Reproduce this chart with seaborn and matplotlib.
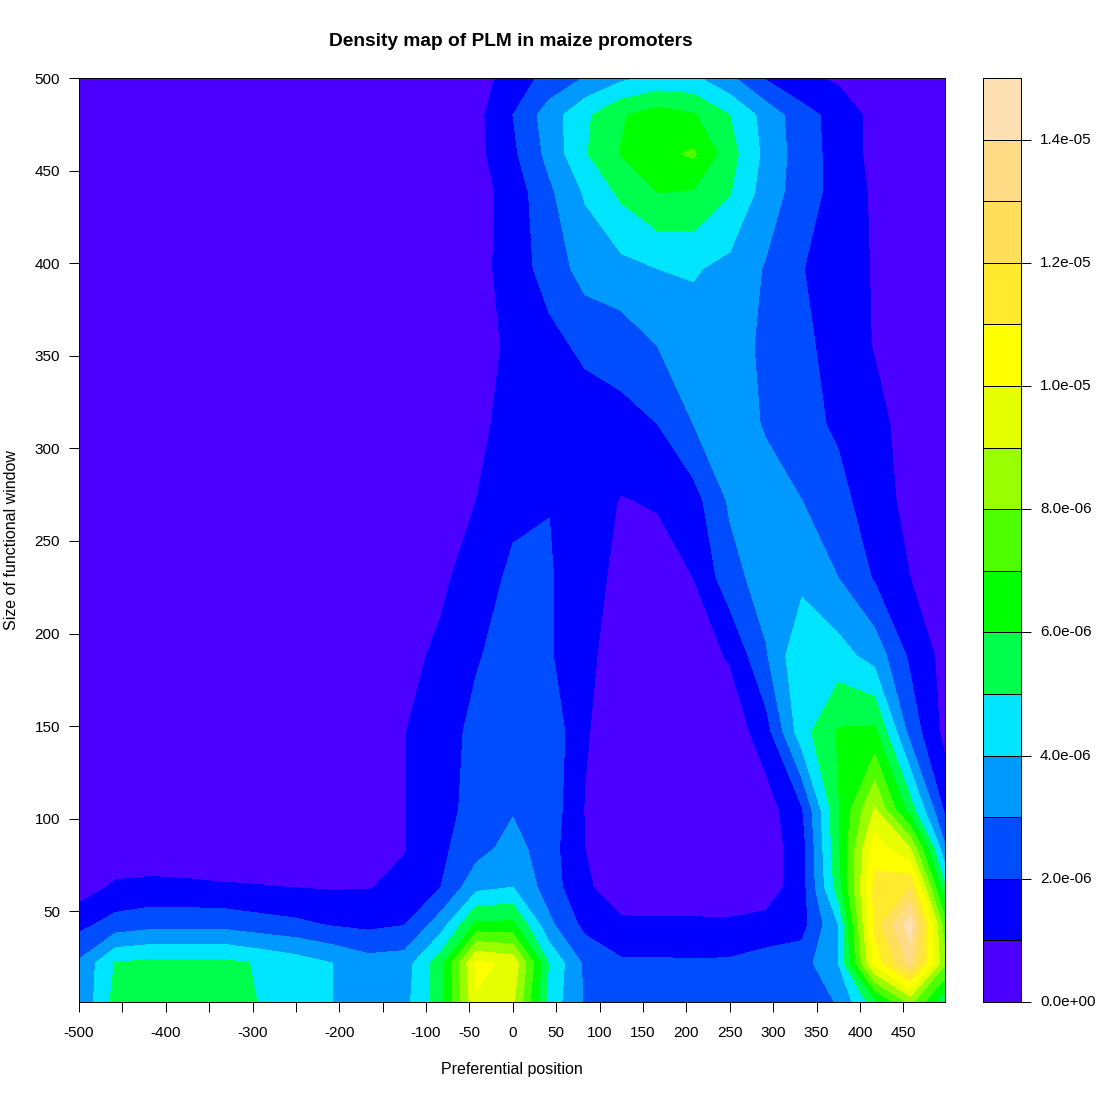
import numpy as np
import matplotlib
matplotlib.use('Agg')
import matplotlib.pyplot as plt
from matplotlib.colors import ListedColormap
import seaborn as sns

# density grid, in units of 1e-6
positions = [-500, -458, -417, -375, -333, -292, -250, -208, -167, -125, -83, -42, 0,
             42, 83, 125, 167, 208, 250, 292, 333, 375, 417, 458, 500]
sizes = [1, 22, 43, 63, 84, 105, 147, 188, 230, 272, 313, 355, 397, 438, 459, 480, 500]

row_1 = [3.1, 5.36, 5.7, 5.7, 5.7, 4.95, 4.6, 4.0, 3.7, 3.7, 5.5, 9.9, 9.2, 4.6, 2.9, 2.5, 2.5, 2.5, 2.5, 2.6, 2.6, 3.05, 5.6, 8.3, 5.0]
row_22 = [3.15, 5.05, 5.25, 5.25, 5.25, 4.9, 4.5, 4.0, 3.4, 3.5, 5.6, 10.25, 9.75, 4.9, 2.8, 2.15, 2.15, 2.1, 2.15, 2.45, 2.55, 4.0, 10.3, 13.3, 8.0]
row_43 = [1.7, 2.4, 2.65, 2.65, 2.65, 2.4, 2.2, 1.9, 1.75, 1.95, 3.5, 6.2, 6.2, 3.2, 1.7, 1.15, 1.15, 1.15, 1.12, 1.3, 1.6, 4.0, 11.3, 14.6, 7.0]
row_63 = [0.5, 1.15, 1.25, 1.2, 1.1, 1.05, 0.98, 0.92, 0.95, 1.25, 2.0, 3.7, 4.0, 2.5, 1.15, 0.5, 0.4, 0.4, 0.45, 0.5, 1.55, 5.5, 11.3, 12.0, 4.8]
row_84 = [0.3, 0.35, 0.35, 0.3, 0.3, 0.3, 0.3, 0.3, 0.4, 0.95, 1.8, 2.6, 3.4, 2.4, 1.0, 0.35, 0.3, 0.3, 0.3, 0.45, 1.55, 5.8, 10.6, 9.0, 2.9]
row_105 = [0.2, 0.2, 0.2, 0.2, 0.2, 0.2, 0.2, 0.25, 0.3, 0.97, 1.6, 2.4, 2.9, 2.6, 0.95, 0.3, 0.3, 0.3, 0.3, 0.5, 1.9, 5.9, 9.1, 5.5, 1.6]
row_147 = [0.2, 0.2, 0.2, 0.2, 0.2, 0.2, 0.2, 0.2, 0.4, 0.97, 1.5, 2.3, 2.7, 2.7, 1.1, 0.35, 0.3, 0.3, 0.3, 1.6, 4.6, 6.1, 6.2, 2.6, 0.6]
row_188 = [0.2, 0.2, 0.2, 0.2, 0.2, 0.2, 0.2, 0.2, 0.3, 0.7, 1.2, 1.9, 2.5, 2.1, 1.2, 0.6, 0.4, 0.5, 1.1, 2.9, 4.9, 4.4, 3.6, 1.8, 0.6]
row_230 = [0.2, 0.2, 0.2, 0.2, 0.2, 0.2, 0.2, 0.2, 0.2, 0.4, 0.8, 1.5, 2.2, 2.1, 1.3, 0.8, 0.5, 1.0, 2.6, 3.5, 3.7, 3.0, 1.9, 1.0, 0.5]
row_272 = [0.2, 0.2, 0.2, 0.2, 0.2, 0.2, 0.2, 0.2, 0.2, 0.3, 0.45, 1.0, 1.75, 1.97, 1.4, 0.95, 1.1, 1.6, 3.15, 3.4, 3.0, 2.4, 1.3, 0.8, 0.4]
row_313 = [0.2, 0.2, 0.2, 0.2, 0.2, 0.2, 0.2, 0.2, 0.2, 0.2, 0.4, 0.8, 1.3, 1.35, 1.5, 1.7, 2.0, 3.0, 3.5, 2.9, 2.4, 1.8, 1.3, 0.6, 0.3]
row_355 = [0.2, 0.2, 0.2, 0.2, 0.2, 0.2, 0.2, 0.2, 0.2, 0.2, 0.3, 0.6, 1.2, 1.7, 2.2, 2.4, 3.0, 3.5, 3.4, 2.8, 2.3, 1.5, 0.95, 0.5, 0.3]
row_397 = [0.2, 0.2, 0.2, 0.2, 0.2, 0.2, 0.2, 0.2, 0.2, 0.2, 0.3, 0.6, 1.5, 2.4, 3.4, 3.7, 4.0, 4.1, 3.7, 2.9, 2.05, 1.3, 0.95, 0.6, 0.3]
row_438 = [0.2, 0.2, 0.2, 0.2, 0.2, 0.2, 0.2, 0.2, 0.2, 0.2, 0.3, 0.6, 1.4, 2.8, 4.1, 5.2, 6.0, 5.9, 5.05, 3.5, 2.5, 1.6, 0.85, 0.5, 0.2]
row_459 = [0.2, 0.2, 0.2, 0.2, 0.2, 0.2, 0.2, 0.2, 0.2, 0.2, 0.3, 0.7, 1.8, 3.3, 4.9, 6.05, 6.7, 7.15, 5.4, 3.7, 2.5, 1.6, 0.7, 0.5, 0.2]
row_480 = [0.2, 0.2, 0.2, 0.2, 0.2, 0.2, 0.2, 0.2, 0.2, 0.2, 0.3, 0.7, 2.0, 3.5, 4.8, 5.9, 6.5, 6.1, 5.0, 3.6, 2.4, 1.6, 0.7, 0.5, 0.2]
row_500 = [0.2, 0.2, 0.2, 0.2, 0.2, 0.2, 0.2, 0.2, 0.2, 0.2, 0.3, 0.5, 1.5, 2.3, 3.05, 3.8, 4.2, 4.2, 3.2, 1.9, 1.2, 0.85, 0.5, 0.3, 0.2]

density_rows = [row_1, row_22, row_43, row_63, row_84, row_105, row_147, row_188, row_230,
                row_272, row_313, row_355, row_397, row_438, row_459, row_480, row_500]

level_steps = list(range(16))
topo_colors = ['#4C00FF', '#0000FF', '#004CFF', '#0099FF', '#00E5FF',
               '#00FF4D', '#00FF00', '#4DFF00', '#99FF00', '#E6FF00',
               '#FFFF00', '#FFEA2D', '#FFDE59', '#FFDB86', '#FFE0B3']

x_ticks = list(range(-500, 500, 50))
x_labels = ['-500', '', '-400', '', '-300', '', '-200', '', '-100', '-50', '0', '50', '100',
            '150', '200', '250', '300', '350', '400', '450']
y_ticks = [50, 100, 150, 200, 250, 300, 350, 400, 450, 500]
bar_labels = ['0.0e+00', '2.0e-06', '4.0e-06', '6.0e-06', '8.0e-06', '1.0e-05', '1.2e-05', '1.4e-05']

sns.set_theme(style='ticks')
plt.rcParams['font.family'] = ['Liberation Sans', 'DejaVu Sans']

z = np.array(density_rows) * 1e-6
levels = np.array(level_steps) * 1e-6
palette = sns.color_palette(topo_colors, n_colors=15)

fig = plt.figure(figsize=(11, 11), dpi=100)
ax = fig.add_axes([79 / 1100, 1 - 1002 / 1100, 866 / 1100, 924 / 1100])
cax = fig.add_axes([983 / 1100, 1 - 1002 / 1100, 38 / 1100, 924 / 1100])

ax.contourf(positions, sizes, z, levels=levels, colors=palette)
ax.set_xlim(-500, 498)
ax.set_ylim(1, 500)
ax.set_xticks(x_ticks)
ax.set_xticklabels(x_labels)
ax.set_yticks(y_ticks)
ax.tick_params(axis='x', length=7.2, width=0.7, labelsize=11, pad=10, color='black', labelcolor='black')
ax.tick_params(axis='y', length=7.2, width=0.7, labelsize=11, pad=6.5, color='black', labelcolor='black')
ax.set_xlabel('Preferential position', fontsize=11.5, labelpad=16, color='black')
ax.set_ylabel('Size of functional window', fontsize=11.5, color='black', va='center')
ax.yaxis.set_label_coords(-0.0775, 0.5)
fig.text(511 / 1100, 1 - 41 / 1100, 'Density map of PLM in maize promoters',
         ha='center', va='center', fontsize=13.8, fontweight='bold', color='black')

# colour key, one cell per level band
mids = (levels[:-1] + levels[1:]).reshape(-1, 1) / 2
sns.heatmap(mids, ax=cax, cmap=ListedColormap(palette), vmin=0, vmax=1.5e-5, cbar=False,
            linewidths=0.5, linecolor='black', xticklabels=False, yticklabels=False)
cax.invert_yaxis()
cax.set_xticks([])
cax.yaxis.tick_right()
cax.set_yticks(level_steps[::2])
cax.set_yticklabels(bar_labels, rotation=0, va='center')
cax.tick_params(axis='y', length=7.2, width=0.7, labelsize=11, pad=6.5, color='black', labelcolor='black')

for a in (ax, cax):
    for spine in a.spines.values():
        spine.set_visible(True)
        spine.set_linewidth(0.7)
        spine.set_color('black')

fig.savefig('out.png', dpi=100)
